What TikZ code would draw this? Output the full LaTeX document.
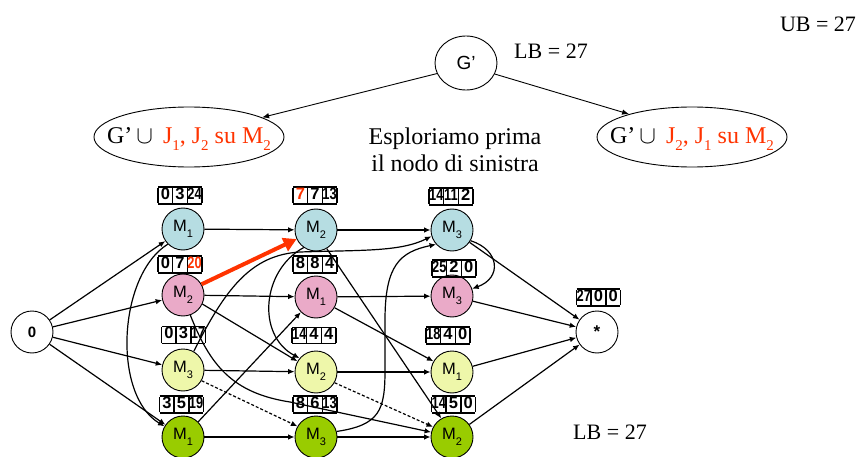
\documentclass[tikz,border=0pt]{standalone}
\usepackage{fontspec}
\setmainfont{Liberation Serif}
\setsansfont{Liberation Sans}
\usepackage{graphicx}
\usetikzlibrary{arrows.meta,shapes.geometric}
\definecolor{tealA}{RGB}{182,221,226}
\definecolor{pinkA}{RGB}{234,170,200}
\definecolor{yelA}{RGB}{238,247,170}
\definecolor{grnA}{RGB}{153,204,0}
\definecolor{redA}{RGB}{255,51,0}
\newcommand\Ms[1]{M\raisebox{-0.35em}{\fontsize{11}{11}\selectfont #1}}
\newcommand\cel[1]{\rule[-3pt]{0pt}{13.2pt}\makebox[14.6pt]{#1}}
\newcommand\sq[1]{\scalebox{0.78}[1]{#1}}
\newcommand\cellbox[3]{{\sffamily\bfseries\fontsize{16.5}{12}\selectfont\setlength\tabcolsep{0pt}\setlength\arrayrulewidth{1.5pt}\begin{tabular}{|c|c|c|}\hline\cel{#1}&\cel{#2}&\cel{#3}\\\hline\end{tabular}}}
\newcommand\subs[1]{\raisebox{-0.3em}{\fontsize{15}{15}\selectfont #1}}
\begin{document}
\begin{tikzpicture}[x=1pt,y=-1pt,
  op/.style={circle,draw,line width=0.9pt,minimum size=42pt,inner sep=0pt,font=\sffamily\fontsize{16.5}{16}\selectfont},
  arc/.style={line width=1.2pt,-{Latex[length=6.5pt,width=5.5pt]}},
  dis/.style={arc,dash pattern=on 3pt off 2pt},
  nb/.style={inner sep=0pt},
  ttl/.style={font=\fontsize{22}{26}\selectfont},
  big/.style={font=\fontsize{24}{27}\selectfont},
  oval/.style={ellipse,draw,line width=0.9pt,inner sep=0pt}]
\useasboundingbox (0,0) rectangle (862,457);

% top part
\node[oval,minimum width=62pt,minimum height=54pt,font=\sffamily\fontsize{19}{19}\selectfont] (G) at (466,63) {G’};
\node[ttl] (lb1) at (551,51) {LB = 27};
\node[ttl] (ub) at (818,24) {UB = 27};
\node[oval,minimum width=190pt,minimum height=60pt] (L) at (189,137) {};
\node[big,inner sep=0pt] (Lt) at (189,139) {G’\,$\cup$\, {\color{redA}J\subs{1}, J\subs{2} su M\subs{2}}};
\node[oval,minimum width=190pt,minimum height=60pt] (R) at (692,137) {};
\node[big,inner sep=0pt] (Rt) at (692,139) {G’\,$\cup$\, {\color{redA}J\subs{2}, J\subs{1} su M\subs{2}}};
\node[big,align=center] (expl) at (455,150) {Esploriamo prima\\ il nodo di sinistra};
\node[ttl] (lb2) at (610,432) {LB = 27};
\draw[line width=0.9pt,-{Latex[length=7pt,width=5.5pt]}] (G.200) -- (L.15);
\draw[line width=0.9pt,-{Latex[length=7pt,width=5.5pt]}] (G.339) -- (R.160);

% graph nodes
\node[op,font=\sffamily\bfseries\fontsize{15}{15}\selectfont] (s) at (32,332) {0};
\node[op,font=\sffamily\bfseries\fontsize{17}{17}\selectfont] (t) at (597,332) {*};
\node[op,fill=tealA] (a1) at (183,229) {\Ms1};
\node[op,fill=tealA] (a2) at (316,230) {\Ms2};
\node[op,fill=tealA] (a3) at (452,230) {\Ms3};
\node[op,fill=pinkA] (b1) at (183,295) {\Ms2};
\node[op,fill=pinkA] (b2) at (316,297) {\Ms1};
\node[op,fill=pinkA] (b3) at (452,296) {\Ms3};
\node[op,fill=yelA] (c1) at (183,370) {\Ms3};
\node[op,fill=yelA] (c2) at (316,372) {\Ms2};
\node[op,fill=yelA] (c3) at (452,372) {\Ms1};
\node[op,fill=grnA] (d1) at (183,437) {\Ms1};
\node[op,fill=grnA] (d2) at (316,437) {\Ms3};
\node[op,fill=grnA] (d3) at (452,437) {\Ms2};

% number boxes
\node[nb] (na1) at (180,195.5) {\cellbox{0}{3}{\sq{24}}};
\node[nb] (na2) at (315,195.5) {\cellbox{\color{redA}7}{7}{\sq{13}}};
\node[nb] (na3) at (451,196.5) {\cellbox{\sq{14}}{\sq{11}}{2}};
\node[nb] (nb1) at (180,264.5) {\cellbox{0}{7}{\color{redA}\sq{20}}};
\node[nb] (nb2) at (315,264.5) {\cellbox{8}{8}{4}};
\node[nb] (nb3) at (454,268.5) {\cellbox{\sq{25}}{2}{0}};
\node[nb] (nc1) at (183.5,335) {\cellbox{0}{3}{\sq{17}}};
\node[nb] (nc2) at (314,335.5) {\cellbox{\sq{14}}{4}{4}};
\node[nb] (nc3) at (448,335.5) {\cellbox{\sq{18}}{4}{0}};
\node[nb] (nd1) at (181.5,404.5) {\cellbox{3}{5}{\sq{19}}};
\node[nb] (nd2) at (315,404.5) {\cellbox{8}{6}{\sq{13}}};
\node[nb] (nd3) at (453.5,404.5) {\cellbox{\sq{14}}{5}{0}};
\node[nb] (nt) at (598.5,297.5) {\cellbox{\sq{27}}{0}{0}};

% source and sink arcs
\draw[arc] (s) -- (a1);
\draw[arc] (s) -- (b1);
\draw[arc] (s) -- (c1);
\draw[arc] (s) -- (d1);
\draw[arc] (a3) -- (t);
\draw[arc] (b3) -- (t);
\draw[arc] (c3) -- (t);
\draw[arc] (d3) -- (t);

% job arcs
\draw[arc] (a1) -- (a2);
\draw[arc] (a2) -- (a3);
\draw[arc] (b1) -- (b2);
\draw[arc] (b2) -- (b3);
\draw[arc] (c1) -- (c2);
\draw[arc] (c2) -- (c3);
\draw[arc] (d1) -- (d2);
\draw[arc] (d2) -- (d3);

% machine arcs
\draw[arc] (a1.225) .. controls (118,275) and (112,395) .. (d1.150);
\draw[arc] (d1.45) -- (b2.225);
\draw[arc] (b2.330) -- (c3.150);
\draw[arc] (b1.335) -- (c2.150);
\draw[arc] (b1.290) .. controls (210,365) and (232,393) .. (290,402) -- (d3.167);
\draw[arc] (a2.235) .. controls (262,270) and (256,335) .. (c2.140);
\draw[arc] (a2.300) -- (d3.120);
\draw[dis] (c2.330) -- (d3.152);
\draw[dis] (c1.330) -- (d2.150);
\draw[arc] (c1.60) .. controls (225,290) and (250,255) .. (300,252) .. controls (360,250) and (400,252) .. (a3.197);
\draw[arc] (d2.15) .. controls (380,425) and (385,410) .. (385,370) -- (385,320) .. controls (385,265) and (400,252) .. (a3.222);
\draw[arc] (a3.330) .. controls (500,250) and (502,278) .. (b3.20);
\draw[line width=4pt,redA,-{Triangle[length=13pt,width=14pt]}] (b1.30) -- (a2.205);
\end{tikzpicture}
\end{document}
